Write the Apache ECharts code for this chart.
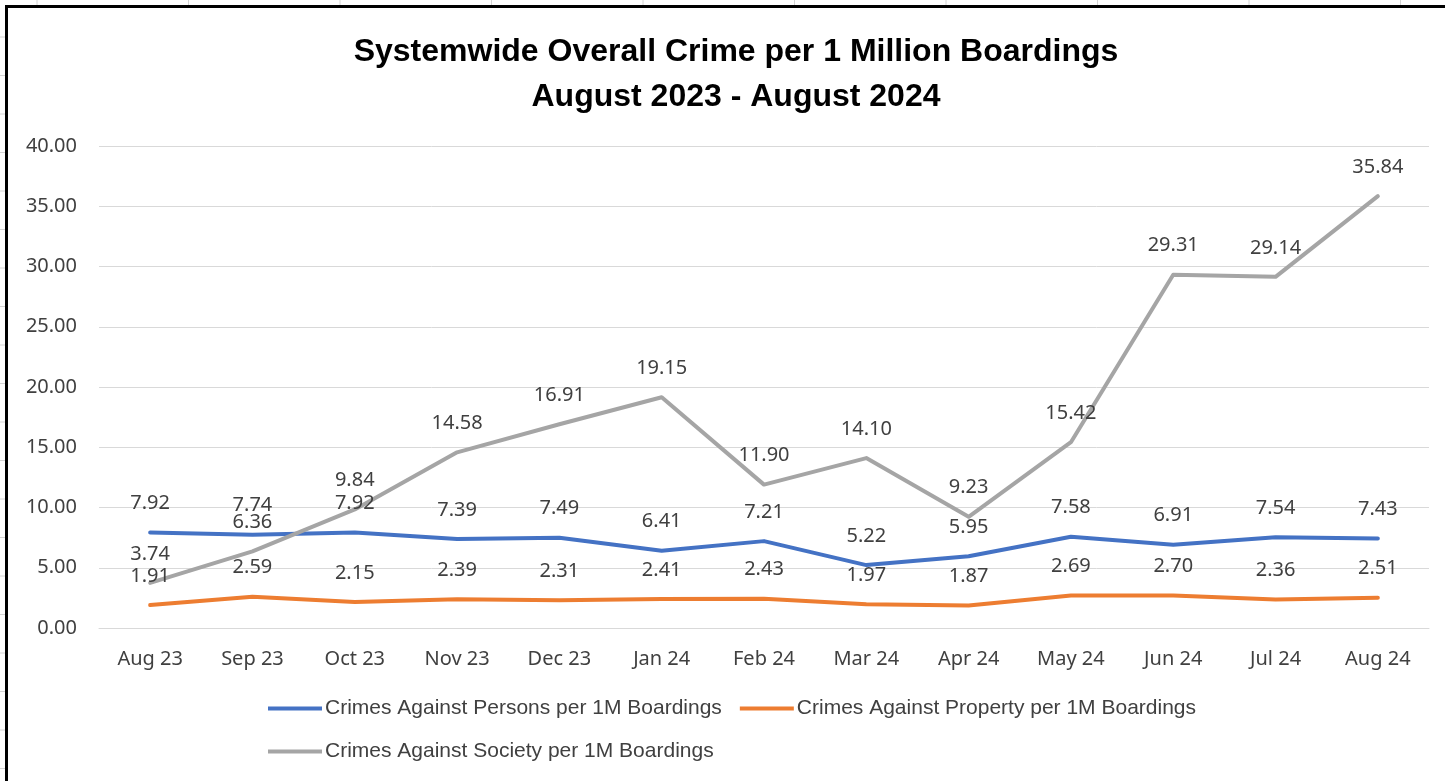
<!DOCTYPE html>
<html>
<head>
<meta charset="utf-8">
<script src="https://cdn.jsdelivr.net/npm/echarts@6/dist/echarts.min.js"></script>
<style>
html,body{margin:0;padding:0;background:#fff;}
#c{width:1445px;height:781px;}
</style>
</head>
<body>
<div id="c"></div>
<script>
const categories = ['Aug 23','Sep 23','Oct 23','Nov 23','Dec 23','Jan 24','Feb 24','Mar 24','Apr 24','May 24','Jun 24','Jul 24','Aug 24'];
const personsValues = [7.92,7.74,7.92,7.39,7.49,6.41,7.21,5.22,5.95,7.58,6.91,7.54,7.43];
const propertyValues = [1.91,2.59,2.15,2.39,2.31,2.41,2.43,1.97,1.87,2.69,2.70,2.36,2.51];
const societyValues = [3.74,6.36,9.84,14.58,16.91,19.15,11.90,14.10,9.23,15.42,29.31,29.14,35.84];
const seriesNames = ['Crimes Against Persons per 1M Boardings','Crimes Against Property per 1M Boardings','Crimes Against Society per 1M Boardings'];
const titleLines = ['Systemwide Overall Crime per 1 Million Boardings','August 2023 - August 2024'];
const yTicks = {min:0, max:40, interval:5};

const chart = echarts.init(document.getElementById('c'), null, {renderer:'canvas'});
const textColor = '#404040';
const numFont = 'Noto Sans';
const narrowFont = '"Liberation Sans Narrow", "Arial Narrow", "Liberation Sans", sans-serif';

const frame = [];
for (let i = 0; i < 10; i++) {
  const x = 37 + i * 151.5;
  frame.push({type:'line', shape:{x1:x,y1:0,x2:x,y2:5}, style:{stroke:'#d4d4d4', lineWidth:1}, silent:true});
}
for (let j = 0; j < 20; j++) {
  const y = 37 + j * 38.5;
  frame.push({type:'line', shape:{x1:0,y1:y,x2:5,y2:y}, style:{stroke:'#d4d4d4', lineWidth:1}, silent:true});
}
frame.push({type:'line', shape:{x1:5,y1:6.5,x2:1445,y2:6.5}, style:{stroke:'#000', lineWidth:3}, silent:true});
frame.push({type:'line', shape:{x1:6.5,y1:5,x2:6.5,y2:781}, style:{stroke:'#000', lineWidth:3}, silent:true});

function mkSeries(name, data, color) {
  return {
    name, type:'line', data, symbol:'circle', symbolSize:0.1, showSymbol:true, smooth:false,
    lineStyle:{color, width:4, cap:'round', join:'round'},
    itemStyle:{color},
    label:{show:true, position:'top', distance:19, color:textColor, fontFamily:numFont, fontSize:20,
      formatter:(p)=>p.value.toFixed(2)},
    labelLayout:{hideOverlap:false},
    emphasis:{disabled:true}
  };
}

chart.setOption({
  animation:false,
  backgroundColor:'#fff',
  title:{
    text: titleLines.join('\n'),
    left: 731, textAlign:'center', top: 25,
    textStyle:{fontFamily:narrowFont, fontWeight:'bold', fontSize:32, color:'#000', lineHeight:45}
  },
  graphic: frame,
  grid:{left:99, right:16, top:146, bottom:153, containLabel:false},
  legend:[
    {data:[seriesNames[0], seriesNames[1]], left:268, top:698, padding:0, itemWidth:54, itemHeight:4, itemGap:18, icon:'rect',
      textStyle:{fontFamily:narrowFont, fontSize:21, color:textColor, padding:[0,0,0,-2]}},
    {data:[seriesNames[2]], left:268, top:741, padding:0, itemWidth:54, itemHeight:4, icon:'rect',
      textStyle:{fontFamily:narrowFont, fontSize:21, color:textColor, padding:[0,0,0,-2]}}
  ],
  xAxis:{
    type:'category', data:categories, boundaryGap:true,
    axisLine:{show:true, lineStyle:{color:'#d9d9d9', width:1}},
    axisTick:{show:false},
    axisLabel:{color:textColor, fontFamily:numFont, fontSize:20, margin:21}
  },
  yAxis:{
    type:'value', min:yTicks.min, max:yTicks.max, interval:yTicks.interval,
    axisLine:{show:false}, axisTick:{show:false},
    splitLine:{lineStyle:{color:'#d9d9d9', width:1}},
    axisLabel:{color:textColor, fontFamily:numFont, fontSize:20, margin:22, formatter:(v)=>v.toFixed(2)}
  },
  series:[
    mkSeries(seriesNames[0], personsValues, '#4472C4'),
    mkSeries(seriesNames[1], propertyValues, '#ED7D31'),
    mkSeries(seriesNames[2], societyValues, '#A5A5A5')
  ]
});
</script>
</body>
</html>
